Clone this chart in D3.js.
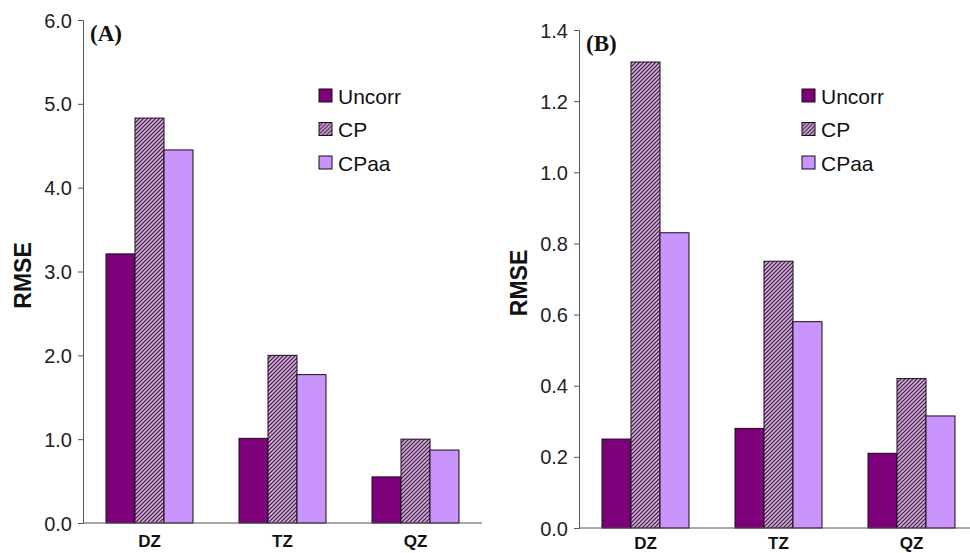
<!DOCTYPE html>
<html>
<head>
<meta charset="utf-8">
<script src="https://cdn.jsdelivr.net/npm/d3@7"></script>
<style>
  body { margin: 0; background: #fff; }
  svg { display: block; font-family: Arial, "Liberation Sans", sans-serif; }
</style>
</head>
<body>
<div id="chart"></div>
<script>
// groups and series
const groups = ['DZ', 'TZ', 'QZ'];
const series = ['Uncorr', 'CP', 'CPaa'];

// panel A values (per series, in group order)
const uncorrA = [3.21, 1.01, 0.55];
const cpA = [4.83, 2.0, 1.0];
const cpaaA = [4.45, 1.77, 0.87];
const ticksA = [0, 1, 2, 3, 4, 5, 6];

// panel B values
const uncorrB = [0.25, 0.28, 0.21];
const cpB = [1.31, 0.75, 0.42];
const cpaaB = [0.83, 0.58, 0.315];
const ticksB = [0, 0.2, 0.4, 0.6, 0.8, 1.0, 1.2, 1.4];

const width = 970;
const height = 553;

const svg = d3.select('#chart')
  .append('svg')
  .attr('width', width)
  .attr('height', height);

// hatch for CP
const defs = svg.append('defs');
const pat = defs.append('pattern')
  .attr('id', 'hatch')
  .attr('patternUnits', 'userSpaceOnUse')
  .attr('width', 4)
  .attr('height', 4);
pat.append('rect').attr('width', 4).attr('height', 4).attr('fill', '#d3abdc');
pat.append('path')
  .attr('d', 'M-1,1 l2,-2 M0,4 l4,-4 M3,5 l2,-2')
  .attr('stroke', '#3b1f3e')
  .attr('stroke-width', 1.2);

const fills = { Uncorr: '#7d007a', CP: 'url(#hatch)', CPaa: '#c994fb' };

function panel(opt) {
  const { vals, ticks, maxY, x0, x1, yTop, yBottom, label, fmt, legendX, rmseX, catY } = opt;
  const g = svg.append('g');

  const x = d3.scaleBand().domain(groups).range([x0, x1])
    .paddingInner(0.346).paddingOuter(0.173);
  const xs = d3.scaleBand().domain(series).range([0, x.bandwidth()]);
  const y = d3.scaleLinear().domain([0, maxY]).range([yBottom, yTop]);

  const rows = groups.map((grp, i) => ({
    group: grp,
    values: series.map((s, j) => ({ s, v: vals[j][i] }))
  }));

  g.selectAll('g.grp')
    .data(rows)
    .join('g')
    .attr('class', 'grp')
    .attr('transform', d => `translate(${x(d.group)},0)`)
    .selectAll('rect')
    .data(d => d.values)
    .join('rect')
    .attr('x', d => xs(d.s))
    .attr('y', d => y(d.v))
    .attr('width', xs.bandwidth())
    .attr('height', d => yBottom - y(d.v))
    .attr('fill', d => fills[d.s])
    .attr('stroke', '#1a0a1a')
    .attr('stroke-width', 1);

  // y axis
  const yAxis = g.append('g')
    .attr('transform', `translate(${x0},0)`)
    .call(d3.axisLeft(y).tickValues(ticks).tickFormat(fmt).tickSize(5).tickSizeOuter(5));
  yAxis.attr('font-size', null).attr('font-family', null);
  yAxis.select('.domain').attr('stroke', '#555');
  yAxis.selectAll('.tick line').attr('stroke', '#555');
  yAxis.selectAll('.tick text')
    .style('font-size', '20px')
    .attr('fill', '#222')
    .attr('x', -11)
    .attr('dy', '0.35em');

  // x axis baseline
  g.append('line')
    .attr('x1', x0).attr('x2', Math.min(x1, width))
    .attr('y1', yBottom).attr('y2', yBottom)
    .attr('stroke', '#555');

  g.selectAll('text.cat')
    .data(groups)
    .join('text')
    .attr('class', 'cat')
    .attr('x', d => x(d) + x.bandwidth() / 2)
    .attr('y', catY)
    .attr('text-anchor', 'middle')
    .attr('font-size', 17)
    .attr('font-weight', 'bold')
    .attr('fill', '#111')
    .text(d => d);

  // panel label
  g.append('text')
    .attr('x', x0 + 7)
    .attr('y', yTop + 21)
    .attr('font-family', '"Liberation Serif", "Times New Roman", serif')
    .attr('font-weight', 'bold')
    .attr('font-size', 23)
    .attr('fill', '#111')
    .text(label);

  // y title
  g.append('text')
    .attr('transform', `translate(${rmseX},${(yTop + yBottom) / 2 + 4}) rotate(-90)`)
    .attr('text-anchor', 'middle')
    .attr('font-size', 23)
    .attr('font-weight', 'bold')
    .attr('fill', '#111')
    .text('RMSE');

  // legend
  const lg = g.append('g').attr('transform', `translate(${legendX},89)`);
  const item = lg.selectAll('g')
    .data(series)
    .join('g')
    .attr('transform', (d, i) => `translate(0,${i * 33.5})`);
  item.append('rect')
    .attr('width', 13).attr('height', 13)
    .attr('fill', d => fills[d])
    .attr('stroke', '#1a0a1a');
  item.append('text')
    .attr('x', 19)
    .attr('y', 7)
    .attr('dy', '0.36em')
    .attr('font-size', 21)
    .attr('fill', '#111')
    .text(d => d);
}

panel({
  vals: [uncorrA, cpA, cpaaA], ticks: ticksA, maxY: 6,
  x0: 83, x1: 482, yTop: 20, yBottom: 523,
  label: '(A)', fmt: d3.format('.1f'), legendX: 319, rmseX: 31, catY: 547
});

panel({
  vals: [uncorrB, cpB, cpaaB], ticks: ticksB, maxY: 1.4,
  x0: 579, x1: 978, yTop: 30, yBottom: 528,
  label: '(B)', fmt: d3.format('.1f'), legendX: 802, rmseX: 527, catY: 549
});
</script>
</body>
</html>
